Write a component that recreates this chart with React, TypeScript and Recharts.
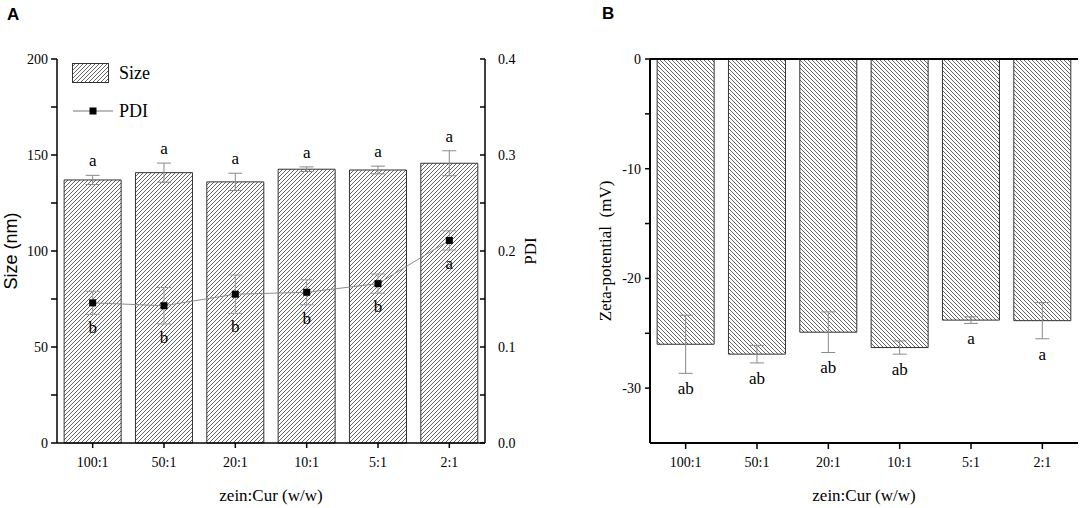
import React from "react"
import { ComposedChart, Bar, Line, XAxis, YAxis, ErrorBar, Legend, ReferenceLine } from "recharts"

const ratios = ["100:1", "50:1", "20:1", "10:1", "5:1", "2:1"]

const sizeMean = [137, 140.8, 136, 142.6, 142.2, 145.7]
const sizeErr = [2.4, 5, 4.5, 1.2, 2, 6.5]
const sizeLetters = ["a", "a", "a", "a", "a", "a"]

const pdiMean = [0.146, 0.143, 0.155, 0.157, 0.166, 0.211]
const pdiErr = [0.012, 0.019, 0.02, 0.013, 0.01, 0.01]
const pdiLetters = ["b", "b", "b", "b", "b", "a"]

const zetaMean = [-26.0, -26.9, -24.9, -26.3, -23.8, -23.85]
const zetaErr = [2.65, 0.8, 1.85, 0.6, 0.3, 1.65]
const zetaLetters = ["ab", "ab", "ab", "ab", "a", "a"]

const sizeTicks = [0, 25, 50, 75, 100, 125, 150, 175, 200]
const pdiTicks = [0, 0.05, 0.1, 0.15, 0.2, 0.25, 0.3, 0.35, 0.4]
const zetaTicks = [-30, -25, -20, -15, -10, -5, 0]

const data = ratios.map((ratio, i) => ({
  ratio,
  size: sizeMean[i],
  sizeErr: sizeErr[i],
  sizeTop: sizeMean[i] + sizeErr[i],
  sizeLetter: sizeLetters[i],
  pdi: pdiMean[i],
  pdiErr: pdiErr[i],
  pdiLow: pdiMean[i] - pdiErr[i],
  pdiLetter: pdiLetters[i],
  zeta: zetaMean[i],
  zetaErr: zetaErr[i],
  zetaLow: zetaMean[i] - zetaErr[i],
  zetaLetter: zetaLetters[i],
}))

const SERIF = "'Liberation Serif', 'Times New Roman', serif"
const SANS = "'Liberation Sans', Arial, sans-serif"
const tickFont = { fontFamily: SERIF, fontSize: 14, fill: "#000" }

// rotated axis title, placed from the axis viewBox
const vTitle = (vb: any, text: string, dx: number, family: string, size: number) => {
  const x = vb.x + dx
  const y = vb.y + vb.height / 2
  return (
    <text
      x={x}
      y={y}
      transform={`rotate(-90 ${x} ${y})`}
      textAnchor="middle"
      dominantBaseline="central"
      fill="#000"
      style={{ whiteSpace: "pre", fontFamily: family, fontSize: size }}
    >
      {text}
    </text>
  )
}

const letterDot = (key: string, dy: number) => (p: any) => (
  <text
    key={`${key}-${p.index}`}
    x={p.cx}
    y={p.cy + dy}
    textAnchor="middle"
    fill="#000"
    style={{ fontFamily: SERIF, fontSize: 17 }}
  >
    {p.payload[key]}
  </text>
)

const squareDot = (p: any) => (
  <rect key={`sq-${p.index}`} x={p.cx - 3.5} y={p.cy - 3.5} width={7} height={7} fill="#000" />
)

// right axis of panel A: ticks point inward, labels outward
const RightTick = (p: any) => {
  const v = Math.round(p.payload.value * 100)
  const major = v % 10 === 0
  const ax = p.x - 13
  return (
    <g>
      <line x1={ax - 5} y1={p.y} x2={ax} y2={p.y} stroke="#000" strokeWidth={1.5} />
      {major && (
        <text x={p.x} y={p.y} dy="0.35em" textAnchor="start" fill="#000" style={{ fontFamily: SERIF, fontSize: 14 }}>
          {p.payload.value.toFixed(1)}
        </text>
      )}
    </g>
  )
}

const LegendA = () => (
  <svg width={90} height={62}>
    <rect x={0.5} y={0.5} width={36} height={19} fill="url(#hatchA)" stroke="#333" />
    <text x={47} y={16} fill="#000" style={{ fontFamily: SERIF, fontSize: 18 }}>Size</text>
    <line x1={1} y1={48} x2={41} y2={48} stroke="#777" strokeWidth={1} />
    <rect x={17.5} y={44.5} width={7} height={7} fill="#000" />
    <text x={47} y={54} fill="#000" style={{ fontFamily: SERIF, fontSize: 18 }}>PDI</text>
  </svg>
)

const panelLabel: React.CSSProperties = {
  position: "absolute",
  fontFamily: SANS,
  fontWeight: "bold",
  fontSize: 17,
  lineHeight: "17px",
}

export default function App() {
  return (
    <div style={{ position: "absolute", left: 0, top: 0, width: 1084, height: 508, background: "#fff" }}>
      <style>{`.recharts-wrapper text.recharts-text { font-family: 'Liberation Serif', 'Times New Roman', serif; }`}</style>
      <svg width={0} height={0} style={{ position: "absolute" }}>
        <defs>
          <pattern id="hatchA" patternUnits="userSpaceOnUse" width={4} height={4}>
            <path d="M0,4 L4,0 M-1,1 L1,-1 M3,5 L5,3" stroke="#333" strokeWidth={0.75} />
          </pattern>
          <pattern id="hatchB" patternUnits="userSpaceOnUse" width={4} height={4}>
            <path d="M0,0 L4,4 M-1,3 L1,5 M3,-1 L5,1" stroke="#333" strokeWidth={0.75} />
          </pattern>
        </defs>
      </svg>

      <div style={{ ...panelLabel, left: 7, top: 6 }}>A</div>
      <div style={{ ...panelLabel, left: 602, top: 5 }}>B</div>

      <div style={{ position: "absolute", left: 0, top: 0 }}>
        <ComposedChart width={540} height={508} data={data} margin={{ top: 59, right: 5, bottom: 0, left: 0 }} barCategoryGap="10%">
          <XAxis
            dataKey="ratio"
            height={65}
            tick={tickFont}
            tickSize={5}
            tickMargin={9}
            axisLine={{ stroke: "#000", strokeWidth: 1.5 }}
            tickLine={{ stroke: "#000", strokeWidth: 1.5 }}
            label={{ value: "zein:Cur (w/w)", position: "insideBottom", offset: 7, style: { fontFamily: SERIF, fontSize: 17, fill: "#000" } }}
          />
          <YAxis
            yAxisId="left"
            width={57}
            domain={[0, 200]}
            ticks={sizeTicks}
            tickFormatter={(v: number) => (v % 50 === 0 ? String(v) : "")}
            tick={tickFont}
            tickSize={6}
            tickMargin={3}
            axisLine={{ stroke: "#000", strokeWidth: 1.5 }}
            tickLine={{ stroke: "#000", strokeWidth: 1.5 }}
            label={{ position: "center", content: (p: any) => vTitle(p.viewBox, "Size (nm)", 11, SANS, 18) }}
          />
          <YAxis
            yAxisId="right"
            orientation="right"
            width={50}
            domain={[0, 0.4]}
            ticks={pdiTicks}
            tick={<RightTick />}
            tickSize={6}
            tickMargin={7}
            tickLine={false}
            axisLine={{ stroke: "#000", strokeWidth: 1.5 }}
            label={{ position: "center", content: (p: any) => vTitle(p.viewBox, "PDI", 45, SERIF, 17) }}
          />
          <Legend
            layout="vertical"
            align="center"
            verticalAlign="middle"
            content={<LegendA />}
            wrapperStyle={{ left: 72, top: 63, width: 90, height: 62 }}
          />
          <Bar yAxisId="left" dataKey="size" fill="url(#hatchA)" stroke="#333" strokeWidth={1} isAnimationActive={false}>
            <ErrorBar dataKey="sizeErr" width={7} stroke="#8a8a8a" strokeWidth={1} />
          </Bar>
          <Line
            yAxisId="right"
            dataKey="pdi"
            stroke="#8c8c8c"
            strokeWidth={1}
            dot={squareDot}
            activeDot={false}
            isAnimationActive={false}
          >
            <ErrorBar dataKey="pdiErr" width={7} stroke="#9a9a9a" strokeWidth={1} />
          </Line>
          <Line yAxisId="left" dataKey="sizeTop" stroke="none" dot={letterDot("sizeLetter", -9)} activeDot={false} isAnimationActive={false} />
          <Line yAxisId="right" dataKey="pdiLow" stroke="none" dot={letterDot("pdiLetter", 19)} activeDot={false} isAnimationActive={false} />
        </ComposedChart>
      </div>

      <div style={{ position: "absolute", left: 540, top: 0 }}>
        <ComposedChart width={544} height={508} data={data} margin={{ top: 59, right: 6, bottom: 0, left: 0 }} barCategoryGap="10%">
          <XAxis
            dataKey="ratio"
            height={65}
            tick={tickFont}
            tickSize={6}
            tickMargin={8}
            axisLine={{ stroke: "#000", strokeWidth: 2 }}
            tickLine={{ stroke: "#000", strokeWidth: 1.5 }}
            label={{ value: "zein:Cur (w/w)", position: "insideBottom", offset: 7, style: { fontFamily: SERIF, fontSize: 17, fill: "#000" } }}
          />
          <YAxis
            width={110}
            domain={[-35, 0]}
            ticks={zetaTicks}
            tickFormatter={(v: number) => (v % 10 === 0 ? String(v) : "")}
            tick={tickFont}
            tickSize={5}
            tickMargin={4}
            axisLine={{ stroke: "#000", strokeWidth: 2 }}
            tickLine={{ stroke: "#000", strokeWidth: 1.5 }}
            label={{ position: "center", content: (p: any) => vTitle(p.viewBox, "Zeta-potential  (mV)", 65, SERIF, 17) }}
          />
          <Bar dataKey="zeta" fill="url(#hatchB)" stroke="#333" strokeWidth={1} isAnimationActive={false}>
            <ErrorBar dataKey="zetaErr" width={7} stroke="#8a8a8a" strokeWidth={1} />
          </Bar>
          <ReferenceLine y={0} stroke="#000" strokeWidth={2} />
          <Line dataKey="zetaLow" stroke="none" dot={letterDot("zetaLetter", 21)} activeDot={false} isAnimationActive={false} />
        </ComposedChart>
      </div>
    </div>
  )
}
